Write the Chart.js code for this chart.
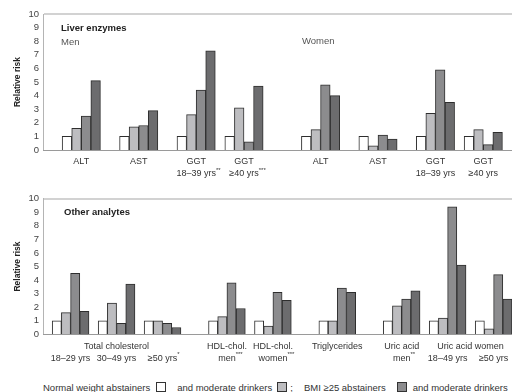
<!DOCTYPE html>
<html>
<head>
<meta charset="utf-8">
<script src="https://cdn.jsdelivr.net/npm/chart.js@4.4.1/dist/chart.umd.min.js"></script>
<style>
  body { margin: 0; background: #fff; font-family: "Liberation Sans", Arial, sans-serif; }
  #wrap { position: relative; width: 512px; height: 392px; overflow: hidden; }
  canvas { position: absolute; left: 0; }
  #topChart { top: 0; }
  #botChart { top: 184px; }
  #legend { position: absolute; left: 43px; top: 382px; font-size: 9.5px; line-height: 12px; color: #333; white-space: nowrap; }
  #legend .box { display: inline-block; width: 8px; height: 8px; border: 1px solid #333; vertical-align: -1px; }
</style>
</head>
<body>
<div id="wrap">
  <canvas id="topChart" width="512" height="180"></canvas>
  <canvas id="botChart" width="512" height="180"></canvas>
  <div id="legend"></div>
</div>
<script>
// series names (legend)
const seriesNames = ["Normal weight abstainers", "and moderate drinkers", "BMI \u226525 abstainers", "and moderate drinkers"];
const seriesColors = ["#ffffff", "#bdbdc0", "#8c8c8e", "#6c6c6e"];

// liver enzymes panel
const topLine1 = ["ALT", "AST", "GGT", "GGT", "ALT", "AST", "GGT", "GGT"];
const topLine2 = ["", "", "18\u201339 yrs^**", "\u226540 yrs^***", "", "", "18\u201339 yrs", "\u226540 yrs"];
const topNormalAbst = [1, 1, 1, 1, 1, 1, 1, 1];
const topNormalMod = [1.6, 1.7, 2.6, 3.1, 1.5, 0.3, 2.7, 1.5];
const topBmiAbst = [2.5, 1.8, 4.4, 0.6, 4.8, 1.1, 5.9, 0.4];
const topBmiMod = [5.1, 2.9, 7.3, 4.7, 4.0, 0.8, 3.5, 1.3];

// other analytes panel
const botLine1 = ["", "", "", "HDL-chol.", "HDL-chol.", "Triglycerides", "Uric acid", "", ""];
const botLine2 = ["18\u201329 yrs", "30\u201349 yrs", "\u226550 yrs^*", "men^***", "women^***", "", "men^**", "18\u201349 yrs", "\u226550 yrs"];
const botSpans = [["Total cholesterol", 0, 2], ["Uric acid women", 7, 8]];
const botNormalAbst = [1, 1, 1, 1, 1, 1, 1, 1, 1];
const botNormalMod = [1.6, 2.3, 1.0, 1.3, 0.6, 1.0, 2.1, 1.2, 0.4];
const botBmiAbst = [4.5, 0.8, 0.8, 3.8, 3.1, 3.4, 2.6, 9.4, 4.4];
const botBmiMod = [1.7, 3.7, 0.5, 1.9, 2.5, 3.1, 3.2, 5.1, 2.6];

const FONT = '"Liberation Sans", Arial, sans-serif';
Chart.defaults.font.family = FONT;

// empty slots before each group, and after the last one
const topGaps = [2, 2, 2, 1, 4, 2, 2, 1], topTrail = 1;
const botGaps = [1, 1, 1, 3, 1, 3, 3, 1, 1], botTrail = 0;

function buildSlots(series, gaps, trail) {
    const labels = [], starts = [];
    const sets = series.map(() => []);
    const empty = () => { labels.push("s" + labels.length); sets.forEach(s => s.push(null)); };
    gaps.forEach((gap, g) => {
        for (let i = 0; i < gap; i++) empty();
        starts.push(labels.length);
        series.forEach((vals, k) => {
            labels.push("s" + labels.length);
            sets.forEach((s, j) => s.push(j === k ? vals[g] : null));
        });
    });
    for (let i = 0; i < trail; i++) empty();
    return { labels, sets, starts };
}

function drawText(ctx, text, cx, cy) {
    const parts = text.split("^");
    ctx.font = "9px " + FONT;
    const w1 = ctx.measureText(parts[0]).width;
    const x0 = cx - w1 / 2;
    ctx.textAlign = "left";
    ctx.textBaseline = "middle";
    ctx.fillStyle = "#333";
    ctx.fillText(parts[0], x0, cy);
    if (parts[1]) {
        ctx.font = "6px " + FONT;
        ctx.fillText(parts[1], x0 + w1, cy - 4);
    }
}

const groupLabels = {
    id: "groupLabels",
    afterDraw(chart, args, opts) {
        const ctx = chart.ctx, x = chart.scales.x, area = chart.chartArea;
        const half = (x.getPixelForValue(1) - x.getPixelForValue(0)) / 2;
        const left = g => x.getPixelForValue(opts.starts[g]) - half;
        const right = g => x.getPixelForValue(opts.starts[g] + 3) + half;
        ctx.save();
        opts.line1.forEach((t, g) => { if (t) drawText(ctx, t, (left(g) + right(g)) / 2, area.bottom + 12); });
        opts.line2.forEach((t, g) => { if (t) drawText(ctx, t, (left(g) + right(g)) / 2, area.bottom + 24); });
        (opts.spans || []).forEach(([t, a, b]) => drawText(ctx, t, (left(a) + right(b)) / 2, area.bottom + 12));
        ctx.textAlign = "left";
        ctx.textBaseline = "middle";
        opts.notes.forEach(n => {
            ctx.font = (n.bold ? "bold " : "") + "9.5px " + FONT;
            ctx.fillStyle = n.bold ? "#222" : "#555";
            ctx.fillText(n.text, area.left + n.x, area.top + n.y);
        });
        ctx.restore();
    }
};

function makeChart(id, series, gaps, trail, padTop, padBottom, labelOpts) {
    const built = buildSlots(series, gaps, trail);
    labelOpts.starts = built.starts;
    return new Chart(document.getElementById(id), {
        type: "bar",
        data: {
            labels: built.labels,
            datasets: built.sets.map((data, k) => ({
                label: seriesNames[k],
                data: data,
                backgroundColor: seriesColors[k],
                borderColor: "#2e2e2e",
                borderWidth: 1,
                skipNull: true,
                categoryPercentage: 1,
                barPercentage: 1
            }))
        },
        options: {
            responsive: false,
            animation: false,
            layout: { padding: { top: padTop, bottom: padBottom, left: 0, right: 0 } },
            plugins: {
                legend: { display: false },
                tooltip: { enabled: false },
                groupLabels: labelOpts
            },
            scales: {
                x: {
                    offset: true,
                    afterFit: s => { s.height = 0; },
                    ticks: { display: false },
                    grid: { display: false },
                    border: { display: true, color: "#9a9a9a", width: 1 }
                },
                y: {
                    min: 0,
                    max: 10,
                    afterFit: s => { s.width = 43; },
                    ticks: { stepSize: 1, autoSkip: false, padding: 4, color: "#444", font: { size: 9.5 } },
                    grid: {
                        drawTicks: false,
                        color: c => c.tick && c.tick.value === 10 ? "#d2d2d2" : "rgba(0,0,0,0)",
                        lineWidth: c => c.tick && c.tick.value === 10 ? 2 : 0
                    },
                    border: { display: true, color: "#b4b4b4", width: 1 },
                    title: {
                        display: true,
                        text: "Relative risk",
                        color: "#222",
                        font: { size: 8.5, weight: "bold" },
                        padding: { top: 13, bottom: 0 }
                    }
                }
            }
        },
        plugins: [groupLabels]
    });
}

makeChart("topChart", [topNormalAbst, topNormalMod, topBmiAbst, topBmiMod], topGaps, topTrail, 14, 30, {
    line1: topLine1,
    line2: topLine2,
    notes: [
        { text: "Liver enzymes", x: 18, y: 14, bold: true },
        { text: "Men", x: 18, y: 28 },
        { text: "Women", x: 259, y: 27 }
    ]
});

makeChart("botChart", [botNormalAbst, botNormalMod, botBmiAbst, botBmiMod], botGaps, botTrail, 14.7, 29.7, {
    line1: botLine1,
    line2: botLine2,
    spans: botSpans,
    notes: [{ text: "Other analytes", x: 21, y: 14, bold: true }]
});

// legend: text first, then its box
const legend = document.getElementById("legend");
const boxMargins = [[6, 11], [5, 1], [11, 6], [6, 0]];
seriesNames.forEach((name, k) => {
    const txt = document.createElement("span");
    txt.innerText = name;
    legend.appendChild(txt);
    const box = document.createElement("span");
    box.className = "box";
    box.style.background = seriesColors[k];
    box.style.marginLeft = boxMargins[k][0] + "px";
    box.style.marginRight = boxMargins[k][1] + "px";
    legend.appendChild(box);
    if (k === 1) {
        const sep = document.createElement("span");
        sep.innerText = ";";
        sep.style.marginLeft = "2px";
        sep.style.marginRight = "11px";
        legend.appendChild(sep);
    }
});
</script>
</body>
</html>
